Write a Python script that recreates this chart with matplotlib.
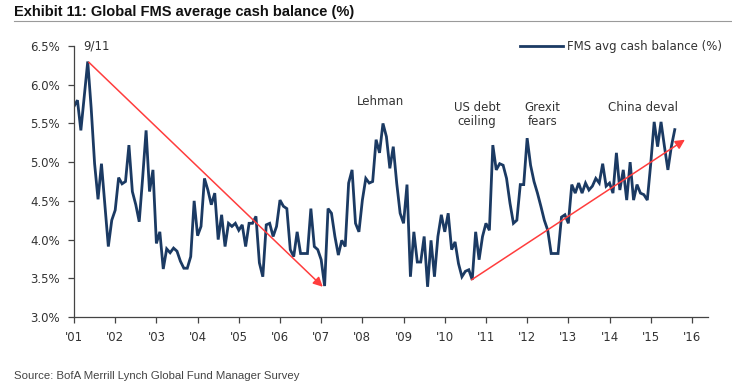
import numpy as np
import matplotlib
matplotlib.use("Agg")
import matplotlib.pyplot as plt

# monthly FMS average cash balance (%), Jan 2001 .. Aug 2015
cash_balance = [
    5.72, 5.80, 5.41, 5.85, 6.30, 5.70, 4.98, 4.52, 4.98, 4.45, 3.91, 4.25,
    4.38, 4.80, 4.72, 4.75, 5.22, 4.62, 4.45, 4.23, 4.80, 5.41, 4.62, 4.90,
    3.95, 4.10, 3.62, 3.88, 3.83, 3.89, 3.85, 3.72, 3.63, 3.63, 3.78, 4.50,
    4.05, 4.17, 4.79, 4.64, 4.45, 4.60, 4.00, 4.32, 3.91, 4.21, 4.17, 4.21,
    4.12, 4.19, 3.91, 4.21, 4.21, 4.30, 3.70, 3.52, 4.19, 4.21, 4.04, 4.17,
    4.51, 4.43, 4.40, 3.87, 3.78, 4.10, 3.82, 3.82, 3.82, 4.40, 3.91, 3.87,
    3.74, 3.40, 4.40, 4.34, 4.04, 3.80, 3.99, 3.91, 4.73, 4.90, 4.21, 4.10,
    4.51, 4.79, 4.73, 4.75, 5.29, 5.12, 5.50, 5.33, 4.92, 5.20, 4.73, 4.34,
    4.21, 4.71, 3.52, 4.10, 3.71, 3.71, 4.04, 3.39, 3.99, 3.52, 4.04, 4.32,
    4.10, 4.34, 3.87, 3.97, 3.69, 3.52, 3.59, 3.61, 3.48, 4.10, 3.74, 4.04,
    4.21, 4.12, 5.22, 4.90, 4.98, 4.96, 4.79, 4.47, 4.21, 4.25, 4.71, 4.71,
    5.31, 4.96, 4.75, 4.60, 4.43, 4.25, 4.12, 3.82, 3.82, 3.82, 4.29, 4.32,
    4.21, 4.71, 4.60, 4.73, 4.60, 4.73, 4.64, 4.69, 4.79, 4.73, 4.98, 4.69,
    4.73, 4.60, 5.12, 4.64, 4.90, 4.51, 5.00, 4.51, 4.71, 4.60, 4.58, 4.51,
    4.98, 5.52, 5.20, 5.52, 5.20, 4.90, 5.20, 5.42,
]
start_year = 2001

year_ticks = list(range(2001, 2017))
year_labels = ["'01", "'02", "'03", "'04", "'05", "'06", "'07", "'08",
               "'09", "'10", "'11", "'12", "'13", "'14", "'15", "'16"]
pct_ticks = [3.0, 3.5, 4.0, 4.5, 5.0, 5.5, 6.0, 6.5]

# trend arrows: (start year, start %, end year, end %)
trend_down = (2001.36, 6.29, 2007.04, 3.39)
trend_up = (2010.65, 3.48, 2015.83, 5.29)

# event labels: (text, year, %)
events = [
    ("9/11", 2001.55, 6.50),
    ("Lehman", 2008.43, 5.78),
    ("US debt\nceiling", 2010.78, 5.61),
    ("Grexit\nfears", 2012.38, 5.61),
    ("China deval", 2014.81, 5.71),
]

NAVY = "#1b3a63"
RED = "#ff3d3d"
TEXT = "#333333"
NARROW = ["Liberation Sans Narrow", "Liberation Sans", "DejaVu Sans"]


def draw_chart():
    fig = plt.figure(figsize=(7.32, 3.88), dpi=100)
    ax = fig.add_axes([74 / 732, 1 - 317 / 388, 634 / 732, 271 / 388])

    years = start_year + np.arange(len(cash_balance)) / 12.0
    ax.plot(years, cash_balance, color=NAVY, lw=2.0,
            label="FMS avg cash balance (%)", solid_joinstyle="miter")

    for x0, y0, x1, y1 in (trend_down, trend_up):
        ax.annotate("", xy=(x1, y1), xytext=(x0, y0),
                    arrowprops=dict(arrowstyle="-|>", color=RED, lw=1.1,
                                    mutation_scale=14, shrinkA=0, shrinkB=0))

    for txt, x, y in events:
        ax.text(x, y, txt, ha="center", va="center", fontsize=8.5,
                color=TEXT, linespacing=1.1, clip_on=False)

    ax.set_xlim(2001, 2016.39)
    ax.set_ylim(3.0, 6.5)
    ax.set_xticks(year_ticks)
    ax.set_xticklabels(year_labels)
    ax.set_yticks(pct_ticks)
    ax.set_yticklabels([f"{v:.1f}%" for v in pct_ticks])
    ax.tick_params(axis="both", direction="out", length=4, width=0.9,
                   colors="#444444", labelcolor=TEXT, labelsize=8.5)
    ax.tick_params(axis="x", pad=6)
    ax.tick_params(axis="y", pad=6)

    for side in ("top", "right"):
        ax.spines[side].set_visible(False)
    for side in ("left", "bottom"):
        ax.spines[side].set_color("#444444")
        ax.spines[side].set_linewidth(0.9)

    leg = ax.legend(loc="upper right", bbox_to_anchor=(1.03, 1.04),
                    frameon=False, fontsize=8.5, handlelength=3.6,
                    handletextpad=0.4, borderaxespad=0)
    for t in leg.get_texts():
        t.set_color(TEXT)

    # header and footer
    fig.text(14 / 732, 1 - 12 / 388, "Exhibit 11: Global FMS average cash balance (%)",
             fontsize=10.5, fontweight="bold", family=NARROW, va="center",
             color="#111111")
    fig.add_artist(plt.Line2D([14 / 732, 1.0], [1 - 21 / 388] * 2,
                              color="#9a9a9a", lw=0.8))
    fig.text(14 / 732, 1 - 376 / 388, "Source: BofA Merrill Lynch Global Fund Manager Survey",
             fontsize=8.2, family=NARROW, va="center", color="#444444")

    fig.savefig("out.png", dpi=100)


def main():
    draw_chart()


if __name__ == "__main__":
    main()
